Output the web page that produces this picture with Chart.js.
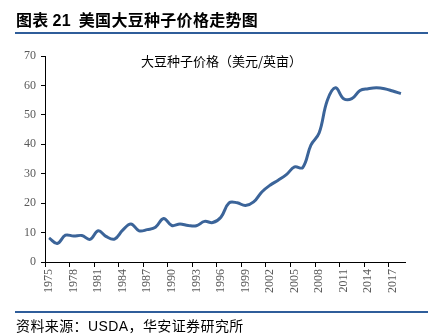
<!DOCTYPE html>
<html>
<head>
<meta charset="utf-8">
<script src="https://cdn.jsdelivr.net/npm/chart.js@4"></script>
<style>
  html, body { margin: 0; padding: 0; background: #fff; }
  #wrap { position: relative; width: 441px; height: 335px; overflow: hidden; }
  #chart { position: absolute; left: 0; top: 0; }
  .title { position: absolute; left: 16px; top: 7px; font: bold 16px "Noto Sans CJK SC", sans-serif; letter-spacing: 0.3px; color: #000; white-space: nowrap; }
  .title span, .source span { font-family: "Liberation Sans", Arial, sans-serif; }
  .rule { position: absolute; left: 15px; width: 413px; height: 2px; background: #2f5d9a; }
  .inner { position: absolute; left: 141px; top: 51px; font: 13px "Noto Sans CJK SC", serif; color: #000; white-space: nowrap; }
  .source { position: absolute; left: 16px; top: 315px; font: 14px "Noto Sans CJK SC", sans-serif; letter-spacing: 0.4px; color: #000; white-space: nowrap; }
</style>
</head>
<body>
<div id="wrap">
  <canvas id="chart" width="441" height="335"></canvas>
  <div class="title">图表 <span>21</span>&nbsp; 美国大豆种子价格走势图</div>
  <div class="rule" style="top:32px"></div>
  <div class="inner">大豆种子价格（美元/英亩）</div>
  <div class="rule" style="top:311px"></div>
  <div class="source">资料来源：<span>USDA</span>，华安证券研究所</div>
</div>
<script>
// Soybean seed price, USD per acre, 1975-2018
const years = [];
for (let y = 1975; y <= 2018; y++) years.push(String(y));

const seedPrice = [
  8.2, 6.3, 9.1, 8.8, 9.0, 7.7, 10.6, 8.6, 7.8, 10.8,
  12.9, 10.6, 11.0, 11.8, 14.8, 12.4, 12.9, 12.4, 12.3, 13.8,
  13.4, 15.2, 20.1, 20.1, 19.2, 20.4, 23.8, 26.1, 27.8, 29.7,
  32.3, 32.1, 39.7, 43.8, 54.9, 59.2, 55.5, 55.5, 58.3, 58.9,
  59.2, 58.9, 58.1, 57.2
];

const yTicks = [0, 10, 20, 30, 40, 50, 60, 70];

const axisFont = { family: '"Liberation Serif", serif', size: 12 };
const labelColor = '#595959';

new Chart(document.getElementById('chart'), {
  type: 'line',
  data: {
    labels: years,
    datasets: [{
      label: '大豆种子价格（美元/英亩）',
      data: seedPrice,
      borderColor: '#3b6499',
      borderWidth: 3,
      pointRadius: 0,
      tension: 0.4,
      fill: false
    }]
  },
  options: {
    responsive: false,
    animation: false,
    layout: { padding: { left: 15, right: 36, top: 56, bottom: 0 } },
    plugins: {
      legend: { display: false },
      tooltip: { enabled: false }
    },
    scales: {
      x: {
        type: 'category',
        offset: true,
        afterFit: s => { s.height = 73; },
        border: { display: true, color: '#000', width: 1 },
        grid: {
          offset: true,
          drawOnChartArea: false,
          drawTicks: true,
          tickLength: 5,
          color: ctx => (ctx.index % 3 === 0 ? '#000' : 'rgba(0,0,0,0)')
        },
        ticks: {
          autoSkip: false,
          maxRotation: 90,
          minRotation: 90,
          padding: 2,
          color: labelColor,
          font: axisFont,
          callback: function (value, index) {
            return index % 3 === 0 ? this.getLabelForValue(value) : '';
          }
        }
      },
      y: {
        min: yTicks[0],
        max: yTicks[yTicks.length - 1],
        afterFit: s => { s.width = 30; },
        afterBuildTicks: s => { s.ticks = yTicks.map(v => ({ value: v })); },
        border: { display: true, color: '#000', width: 1 },
        grid: {
          drawOnChartArea: false,
          drawTicks: true,
          tickLength: 4,
          color: '#000'
        },
        ticks: {
          padding: 5,
          color: labelColor,
          font: axisFont
        }
      }
    }
  }
});
</script>
</body>
</html>
